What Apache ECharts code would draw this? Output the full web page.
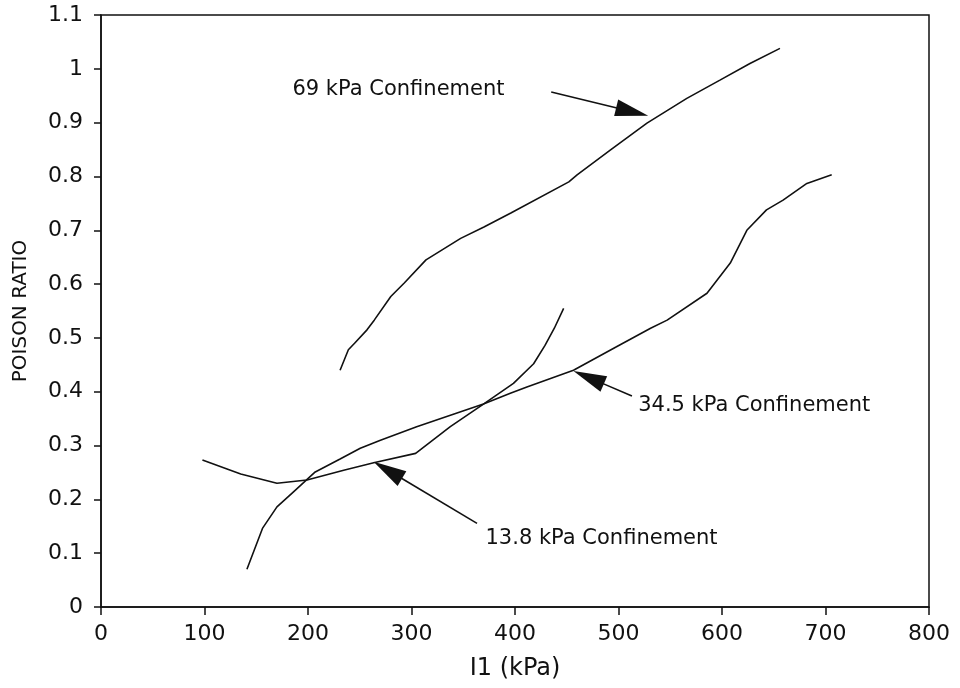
<!DOCTYPE html>
<html>
<head>
<meta charset="utf-8">
<script src="https://cdn.jsdelivr.net/npm/echarts@6/dist/echarts.min.js"></script>
<style>
html,body{margin:0;padding:0;background:#fff;}
#main{width:960px;height:688px;}
</style>
</head>
<body>
<div id="main"></div>
<script>
// ---- Data ----
const xTickLabels = ['0','100','200','300','400','500','600','700','800'];
const yTickLabels = ['0','0.1','0.2','0.3','0.4','0.5','0.6','0.7','0.8','0.9','1','1.1'];

const seriesNames = ['69 kPa Confinement', '34.5 kPa Confinement', '13.8 kPa Confinement'];

const i1_69 = [231, 239, 245, 257, 264, 280, 293, 314, 347.5, 370, 396, 452, 460, 492, 527.5, 566, 598, 627, 656];
const nu_69 = [0.440, 0.478, 0.490, 0.515, 0.533, 0.577, 0.602, 0.645, 0.685, 0.706, 0.732, 0.790, 0.803, 0.849, 0.899, 0.945, 0.979, 1.010, 1.038];

const i1_34 = [141, 156, 170, 186, 207, 231, 250.5, 270, 305, 369.5, 395.5, 411.5, 456.5, 498.5, 531, 547, 585.5, 608, 624, 643, 659, 682, 706];
const nu_34 = [0.070, 0.146, 0.186, 0.214, 0.251, 0.275, 0.295, 0.310, 0.335, 0.377, 0.397, 0.409, 0.440, 0.484, 0.518, 0.533, 0.583, 0.639, 0.700, 0.738, 0.756, 0.787, 0.803];

const i1_13 = [98, 135, 170, 199, 234.5, 263.5, 304, 337.5, 369.5, 398.5, 418, 429, 438, 447];
const nu_13 = [0.273, 0.247, 0.230, 0.236, 0.254, 0.268, 0.2855, 0.335, 0.377, 0.4155, 0.452, 0.486, 0.518, 0.555];

// ---- Annotations (data coordinates) ----
const annoText = ['69 kPa Confinement', '34.5 kPa Confinement', '13.8 kPa Confinement'];
const annoTextAt = [[185, 0.961], [519, 0.375], [371.5, 0.128]];
const arrowTail = [[435, 0.957], [513, 0.392], [363.3, 0.1555]];
const arrowTip  = [[528.7, 0.913], [456.5, 0.4386], [263.4, 0.270]];

function zip(xs, ys){ return xs.map((x,i)=>[x, ys[i]]); }

const FONT = 'DejaVu Sans';
const INK = '#111';

const chart = echarts.init(document.getElementById('main'), null, {renderer:'canvas'});

const lineStyle = {color: INK, width: 1.6};
const mk = (name, xs, ys) => ({
  name, type:'line', data: zip(xs, ys), showSymbol:false, symbol:'none',
  smooth:false, lineStyle, itemStyle:{color:INK}, z:3
});

chart.setOption({
  animation:false,
  backgroundColor:'#fff',
  grid:{left:101, right:31, top:15, bottom:81, show:true, borderColor:INK, borderWidth:1.5, backgroundColor:'transparent'},
  xAxis:{
    type:'value', min:0, max:800, interval:100,
    name:'I1 (kPa)', nameLocation:'middle', nameGap:50,
    nameTextStyle:{fontFamily:FONT, fontSize:24, color:INK},
    axisLine:{show:true, onZero:false, lineStyle:{color:INK, width:1.5}},
    axisTick:{show:true, inside:false, length:8, lineStyle:{color:INK, width:1.5}},
    axisLabel:{fontFamily:FONT, fontSize:22, color:INK, margin:16,
      formatter:(v)=>xTickLabels[Math.round(v/100)] ?? ''},
    splitLine:{show:false}
  },
  yAxis:{
    type:'value', min:0, max:1.1, interval:0.1,
    name:'POISON RATIO', nameLocation:'middle', nameGap:70,
    nameTextStyle:{fontFamily:FONT, fontSize:20, color:INK},
    axisLine:{show:true, onZero:false, lineStyle:{color:INK, width:1.5}},
    axisTick:{show:true, inside:false, length:7, lineStyle:{color:INK, width:1.5}},
    axisLabel:{fontFamily:FONT, fontSize:22, color:INK, margin:18,
      formatter:(v)=>yTickLabels[Math.round(v*10)] ?? ''},
    splitLine:{show:false}
  },
  series:[
    mk(seriesNames[0], i1_69, nu_69),
    mk(seriesNames[1], i1_34, nu_34),
    mk(seriesNames[2], i1_13, nu_13)
  ]
});

// Annotations: arrows and labels positioned through the chart's own scales
const graphics = [];
const HEAD_L = 33, HEAD_W = 17;
for (let i = 0; i < arrowTail.length; i++) {
  const t = chart.convertToPixel({gridIndex:0}, arrowTail[i]);
  const p = chart.convertToPixel({gridIndex:0}, arrowTip[i]);
  const dx = p[0]-t[0], dy = p[1]-t[1];
  const len = Math.hypot(dx, dy);
  const ux = dx/len, uy = dy/len;
  const bx = p[0]-ux*HEAD_L, by = p[1]-uy*HEAD_L;
  const nx = -uy, ny = ux;
  graphics.push({
    type:'line', z:10,
    shape:{x1:t[0], y1:t[1], x2:bx+ux*4, y2:by+uy*4},
    style:{stroke:INK, lineWidth:1.6}
  });
  graphics.push({
    type:'polygon', z:10,
    shape:{points:[[p[0],p[1]],[bx+nx*HEAD_W/2, by+ny*HEAD_W/2],[bx-nx*HEAD_W/2, by-ny*HEAD_W/2]]},
    style:{fill:INK}
  });
}
for (let i = 0; i < annoText.length; i++) {
  const q = chart.convertToPixel({gridIndex:0}, annoTextAt[i]);
  graphics.push({
    type:'text', z:10, x:q[0], y:q[1],
    style:{text:annoText[i], fontFamily:FONT, fontSize:21, fill:INK, align:'left', verticalAlign:'middle'}
  });
}
chart.setOption({graphic:graphics});
</script>
</body>
</html>
